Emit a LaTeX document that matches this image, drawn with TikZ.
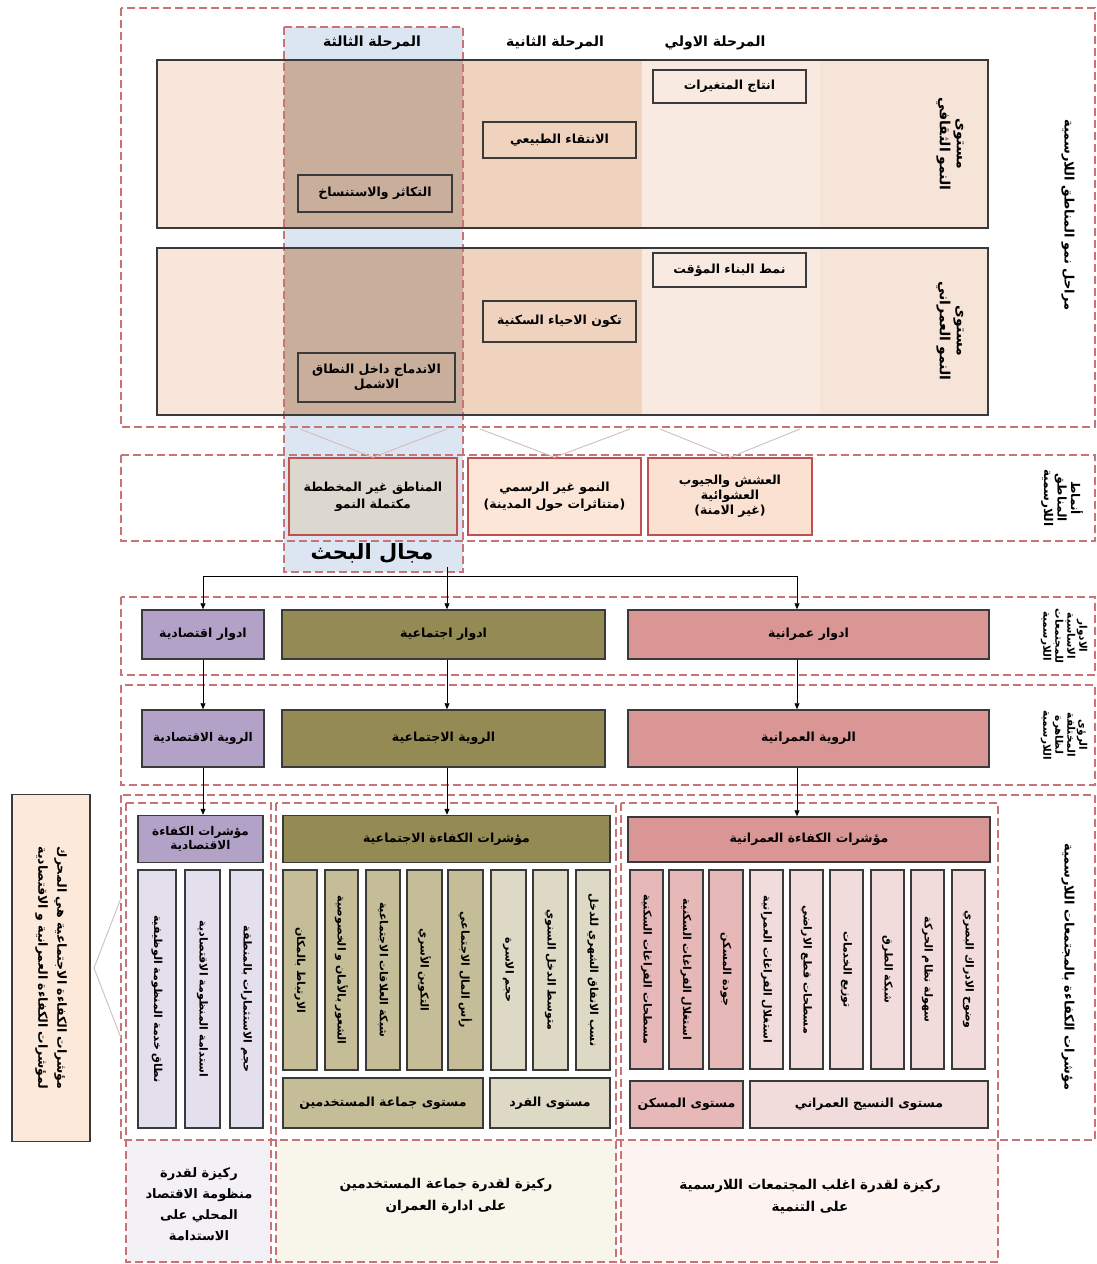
\documentclass[tikz,border=0pt]{standalone}
\usepackage{fontspec}
\newfontfamily\arfont[Script=Arabic]{DejaVu Sans}
\TeXXeTstate=1
\newcommand{\AR}[1]{{\arfont\bfseries\beginR #1\endR}}
\usetikzlibrary{arrows.meta}
\definecolor{dred}{HTML}{C0504D}
\definecolor{dashred}{HTML}{C87476}
\definecolor{bord}{HTML}{3A3A3A}
\definecolor{colblue}{HTML}{DCE6F2}
\definecolor{rowA}{HTML}{F8E6DA}
\definecolor{rowT}{HTML}{C9AE9C}
\definecolor{rowP}{HTML}{F0D3BF}
\definecolor{rowL}{HTML}{F8EAE0}
\definecolor{rowR}{HTML}{F6E4D8}
\definecolor{purp}{HTML}{B3A2C7}
\definecolor{purpl}{HTML}{E4DFEC}
\definecolor{olive}{HTML}{948A54}
\definecolor{olivem}{HTML}{C4BD97}
\definecolor{olivel}{HTML}{DDD9C4}
\definecolor{salm}{HTML}{D99694}
\definecolor{salmm}{HTML}{E6B9B8}
\definecolor{salml}{HTML}{F2DCDB}
\definecolor{peach}{HTML}{FDE9D9}
\definecolor{vline}{HTML}{D2BDBD}
\definecolor{pgray}{HTML}{DCD7CF}
\definecolor{ppeach}{HTML}{FCE6D8}
\definecolor{ppeach2}{HTML}{FBE1D2}
\definecolor{botE}{HTML}{F3F0F6}
\definecolor{botS}{HTML}{F8F5EB}
\definecolor{botU}{HTML}{FDF4F2}
\begin{document}
\begin{tikzpicture}[x=1pt,y=-1pt,
  dbox/.style={draw=dashred, line width=1.3pt, dash pattern=on 8pt off 4pt},
  bx/.style={draw=bord, line width=1.5pt, inner sep=2pt, align=center, font=\fontsize{12.5}{17}\selectfont},
  rbx/.style={draw=dred, line width=1.3pt, inner sep=2pt, align=center, font=\fontsize{12.5}{17}\selectfont},
  vcol/.style={bx, rotate=-90, font=\fontsize{11}{13}\selectfont},
  lbl/.style={rotate=-90, align=center, inner sep=0pt, font=\fontsize{13}{15}\selectfont},
  slbl/.style={rotate=-90, align=center, inner sep=0pt, font=\fontsize{10.5}{12}\selectfont},
  txt/.style={align=center, inner sep=0pt, font=\fontsize{13}{20}\selectfont},
  arr/.style={draw=black, line width=0.8pt, -{Triangle[length=6pt,width=5pt]}},
  vl/.style={draw=vline, line width=0.9pt}]
\fill[white] (0,0) rectangle (1097,1264);
\useasboundingbox (0,0) rectangle (1097,1264);

% ---------- stages section ----------
\fill[colblue] (284,27) rectangle (463,572);
\draw[dbox] (121,8) rectangle (1095,427);
\node[txt, font=\fontsize{14}{16}\selectfont] (st3) at (372,43) {\AR{المرحلة الثالثة}};
\node[txt, font=\fontsize{14}{16}\selectfont] (st2) at (555,43) {\AR{المرحلة الثانية}};
\node[txt, font=\fontsize{14}{16}\selectfont] (st1) at (715,43) {\AR{المرحلة الاولي}};

\foreach \ya/\yb in {60/228, 248/415}{
  \fill[rowA] (157,\ya) rectangle (284,\yb);
  \fill[rowT] (284,\ya) rectangle (463,\yb);
  \fill[rowP] (463,\ya) rectangle (642,\yb);
  \fill[rowL] (642,\ya) rectangle (820,\yb);
  \fill[rowR] (820,\ya) rectangle (988,\yb);
}
\draw[dbox] (284,27) rectangle (463,572);
\node[draw=bord, line width=1.8pt, minimum width=831pt, minimum height=168pt, inner sep=0pt] (row1) at (572.5,144) {};
\node[draw=bord, line width=1.8pt, minimum width=831pt, minimum height=167pt, inner sep=0pt] (row2) at (572.5,331.5) {};

\node[lbl, font=\fontsize{14}{17}\selectfont] (r1l) at (950,144) {\AR{مستوى}\\\AR{النمو الثقافي}};
\node[lbl, font=\fontsize{14}{17}\selectfont] (r2l) at (950,331) {\AR{مستوى}\\\AR{النمو العمراني}};

\node[bx, fill=rowL, minimum width=153pt, minimum height=33pt] (s1) at (729.5,86.5) {\AR{انتاج المتغيرات}};
\node[bx, fill=rowP, minimum width=153pt, minimum height=36pt] (s2) at (559.5,140) {\AR{الانتقاء الطبيعي}};
\node[bx, fill=rowT, minimum width=154pt, minimum height=37pt] (s3) at (375,193.5) {\AR{التكاثر والاستنساخ}};
\node[bx, fill=rowL, minimum width=153pt, minimum height=34pt] (u1) at (729.5,270) {\AR{نمط البناء المؤقت}};
\node[bx, fill=rowP, minimum width=153pt, minimum height=41pt] (u2) at (559.5,321.5) {\AR{تكون الاحياء السكنية}};
\node[bx, fill=rowT, minimum width=157pt, minimum height=49pt, font=\fontsize{12.5}{15.5}\selectfont] (u3) at (376.5,377.5) {\AR{الاندماج داخل النطاق}\\\AR{الاشمل}};

\node[lbl] (L1) at (1068,215) {\AR{مراحل نمو المناطق اللارسمية}};

% ---------- patterns ----------
\draw[dbox] (121,455) rectangle (1095,541);
\node[rbx, fill=pgray, minimum width=168pt, minimum height=77pt] (p3) at (373,496.5) {\AR{المناطق غير المخططة}\\\AR{مكتملة النمو}};
\node[rbx, fill=ppeach, minimum width=173pt, minimum height=77pt] (p2) at (554.5,496.5) {\AR{النمو غير الرسمي}\\\AR{(متناثرات حول المدينة)}};
\node[rbx, fill=ppeach2, minimum width=164pt, minimum height=77pt, font=\fontsize{12.5}{15}\selectfont] (p1) at (730,496.5) {\AR{العشش والجيوب}\\\AR{العشوائية}\\\AR{(غير الامنة)}};
\coordinate (v3a) at (300,429); \coordinate (v3b) at (447,429);
\coordinate (v2a) at (480,429); \coordinate (v2b) at (630,429);
\coordinate (v1a) at (660,429); \coordinate (v1b) at (800,429);
\draw[vl] (v3a) -- (p3.north) -- (v3b);
\draw[vl] (v2a) -- (p2.north) -- (v2b);
\draw[vl] (v1a) -- (p1.north) -- (v1b);
\node[lbl, font=\fontsize{12}{13.5}\selectfont] (L2) at (1062,498) {\AR{أنماط}\\\AR{المناطق}\\\AR{اللارسمية}};
\node[txt, font=\fontsize{21}{24}\selectfont] (search) at (372,553) {\AR{مجال البحث}};

% ---------- roles ----------
\draw[dbox] (121,597) rectangle (1095,675);
\node[bx, fill=purp, minimum width=122pt, minimum height=49pt] (er) at (203,634.5) {\AR{ادوار اقتصادية}};
\node[bx, fill=olive, minimum width=323pt, minimum height=49pt] (sr) at (443.5,634.5) {\AR{ادوار اجتماعية}};
\node[bx, fill=salm, minimum width=361pt, minimum height=49pt] (ur) at (808.5,634.5) {\AR{ادوار عمرانية}};
\node[slbl] (L3) at (1064,636) {\AR{الادوار}\\\AR{الاساسية}\\\AR{للمجتمعات}\\\AR{اللارسمية}};

\coordinate (hubtop) at (447,567);
\coordinate (hub) at (447,576);
\coordinate (ux) at (797,576);
\draw[line width=0.8pt] (hubtop) -- (hub);
\draw[arr] (hub) -| (er.north);
\draw[arr] (hub) -- (hub |- sr.north);
\draw[arr] (hub) -- (ux) -- (ux |- ur.north);

% ---------- visions ----------
\draw[dbox] (121,685) rectangle (1095,785);
\node[bx, fill=purp, minimum width=122pt, minimum height=57pt, font=\fontsize{12}{15}\selectfont] (ev) at (203,738.5) {\AR{الروية الاقتصادية}};
\node[bx, fill=olive, minimum width=323pt, minimum height=57pt] (sv) at (443.5,738.5) {\AR{الروية الاجتماعية}};
\node[bx, fill=salm, minimum width=361pt, minimum height=57pt] (uv) at (808.5,738.5) {\AR{الروية العمرانية}};
\node[slbl] (L4) at (1064,735) {\AR{الرؤى}\\\AR{المختلفة}\\\AR{لظاهرة}\\\AR{اللارسمية}};
\draw[arr] (er.south) -- (ev.north);
\draw[arr] (hub |- sr.south) -- (hub |- sv.north);
\draw[arr] (ux |- ur.south) -- (ux |- uv.north);

% ---------- indicators ----------
\fill[botE] (126,1140) rectangle (271,1262);
\fill[botS] (276,1140) rectangle (616,1262);
\fill[botU] (621,1140) rectangle (998,1262);
\draw[dbox] (121,795) rectangle (1095,1140);
\draw[dbox] (126,803) rectangle (271,1262);
\draw[dbox] (276,803) rectangle (616,1262);
\draw[dbox] (621,803) rectangle (998,1262);
\node[lbl] (L5) at (1068,967) {\AR{مؤشرات الكفاءة بالمجتمعات اللارسمية}};

\node[bx, fill=purp, minimum width=125pt, minimum height=47pt, font=\fontsize{12}{14.5}\selectfont] (eh) at (200.5,839) {\AR{مؤشرات الكفاءة}\\\AR{الاقتصادية}};
\node[bx, fill=olive, minimum width=327pt, minimum height=47pt] (sh) at (446.5,839) {\AR{مؤشرات الكفاءة الاجتماعية}};
\node[bx, fill=salm, minimum width=362pt, minimum height=45pt] (uh) at (809,839.5) {\AR{مؤشرات الكفاءة العمرانية}};
\draw[arr] (ev.south) -- (ev.south |- eh.north);
\draw[arr] (hub |- sv.south) -- (hub |- sh.north);
\draw[arr] (ux |- uv.south) -- (ux |- uh.north);

% economic columns
\foreach \a/\b/\t/\n in {230/263/حجم الاستثمارات بالمنطقة/1, 185/220/استدامة المنظومة الاقتصادية/2, 138/176/نطاق خدمة المنظومة الوظيفية/3}{
  \node[vcol, fill=purpl, minimum width=258pt, minimum height={(\b-\a)*1pt}] (e\n) at ({(\a+\b)/2},999) {\AR{\t}};
}
% social columns
\foreach \a/\b/\t/\c/\n in {576/610/نسب الانفاق الشهري للدخل/olivel/1, 533/568/متوسط الدخل السنوي/olivel/2, 491/526/حجم الاسرة/olivel/3, 448/483/رأس المال الاجتماعي/olivem/4, 407/442/التكوين الأسري/olivem/5, 366/400/شبكة العلاقات الاجتماعية/olivem/6, 325/358/الشعور بالأمان و الخصوصية/olivem/7, 283/317/الارتباط بالمكان/olivem/8}{
  \node[vcol, fill=\c, minimum width=200pt, minimum height={(\b-\a)*1pt}] (c\n) at ({(\a+\b)/2},970) {\AR{\t}};
}
\node[bx, fill=olivem, minimum width=200pt, minimum height=50pt] (sb2) at (383,1103) {\AR{مستوى جماعة المستخدمين}};
\node[bx, fill=olivel, minimum width=120pt, minimum height=50pt] (sb1) at (550,1103) {\AR{مستوى الفرد}};
% urban columns
\foreach \a/\b/\t/\c/\n in {952/985/وضوح الادراك البصري/salml/1, 911/944/سهولة نظام الحركة/salml/2, 871/904/شبكة الطرق/salml/3, 830/863/توزيع الخدمات/salml/4, 790/823/مسطحات قطع الاراضي/salml/5, 750/783/استغلال الفراغات العمرانية/salml/6, 709/743/جودة المسكن/salmm/7, 669/703/استغلال الفراغات السكنية/salmm/8, 630/663/مسطحات الفراغات السكنية/salmm/9}{
  \node[vcol, fill=\c, minimum width=199pt, minimum height={(\b-\a)*1pt}] (k\n) at ({(\a+\b)/2},969.5) {\AR{\t}};
}
\node[bx, fill=salmm, minimum width=113pt, minimum height=47pt] (ub2) at (686.5,1104.5) {\AR{مستوى المسكن}};
\node[bx, fill=salml, minimum width=238pt, minimum height=47pt] (ub1) at (869,1104.5) {\AR{مستوى النسيج العمراني}};

% left box
\node[bx, rotate=-90, fill=peach, minimum width=347pt, minimum height=78pt, font=\fontsize{12.5}{19}\selectfont] (lb) at (51,968) {\AR{مؤشرات الكفاءة الاجتماعية هي المحرك}\\\AR{لمؤشرات الكفاءة العمرانية و الاقتصادية}};
\coordinate (lk) at (94,968);
\coordinate (lk1) at (121,898);
\coordinate (lk2) at (121,1038);
\draw[vl] (lk1) -- (lk) -- (lk2);

% bottom texts
\node[txt, font=\fontsize{13}{21}\selectfont] (be) at (199,1204) {\AR{ركيزة لقدرة}\\\AR{منظومة الاقتصاد}\\\AR{المحلي على}\\\AR{الاستدامة}};
\node[txt, font=\fontsize{13.5}{22}\selectfont] (bs) at (446,1196) {\AR{ركيزة لقدرة جماعة المستخدمين}\\\AR{على ادارة العمران}};
\node[txt, font=\fontsize{13.5}{22}\selectfont] (bu) at (810,1196) {\AR{ركيزة لقدرة اغلب المجتمعات اللارسمية}\\\AR{على التنمية}};
\end{tikzpicture}
\end{document}
